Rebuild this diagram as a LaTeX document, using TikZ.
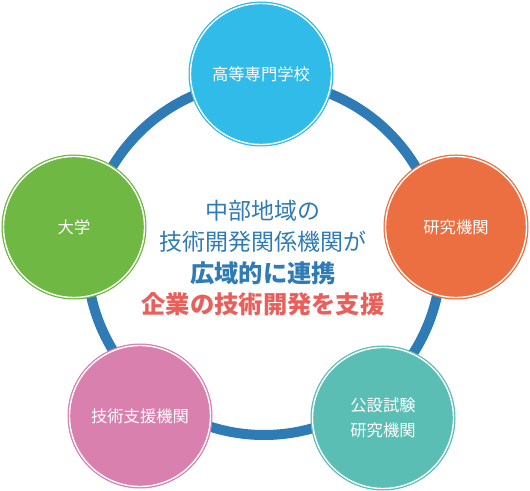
\documentclass[tikz,border=0pt]{standalone}
\usepackage{fontspec}
\setmainfont{Noto Sans CJK JP}
\usetikzlibrary{positioning}

\definecolor{ringblue}{HTML}{2E7BB5}
\definecolor{kosenblue}{HTML}{30BBE9}
\definecolor{laborange}{HTML}{EC6F42}
\definecolor{univgreen}{HTML}{6EB843}
\definecolor{supportpink}{HTML}{D980AF}
\definecolor{publicteal}{HTML}{5BBEB5}
\definecolor{aidred}{HTML}{E9605B}

\begin{document}
\begin{tikzpicture}[x=1pt, y=1pt,
    ORG/.style={circle, fill=#1, draw=#1, double=white, double distance=1.4pt, line width=1.3pt,
                minimum size=141pt, inner sep=0pt, text=white, align=center,
                font=\fontsize{16.3}{25}\selectfont},
    RING/.style={draw=ringblue, line width=10pt}]

    \useasboundingbox (0,0) rectangle (530,490);

    % ring behind the circles
    \coordinate (hub) at (264,232);
    \draw[RING] (hub) circle (177);

    \node[ORG=kosenblue] (kosen) at (261,416) {高等専門学校};
    \node[ORG=laborange] (lab) at (456,263) {研究機関};
    \node[ORG=univgreen] (univ) at (74,263) {大学};
    \node[ORG=supportpink] (support) at (140,74) {技術支援機関};
    \node[ORG=publicteal] (public) at (383,72) {公設試験\\研究機関};

    \node[align=center, text=ringblue, font=\fontsize{23}{31.5}\selectfont] (msg) at (263,232)
        {中部地域の\\
         技術開発関係機関が\\
         {\bfseries\fontsize{24.3}{31.5}\selectfont 広域的に連携}\\
         {\bfseries\fontsize{24.3}{31.5}\selectfont\color{aidred} 企業の技術開発を支援}};
\end{tikzpicture}
\end{document}
